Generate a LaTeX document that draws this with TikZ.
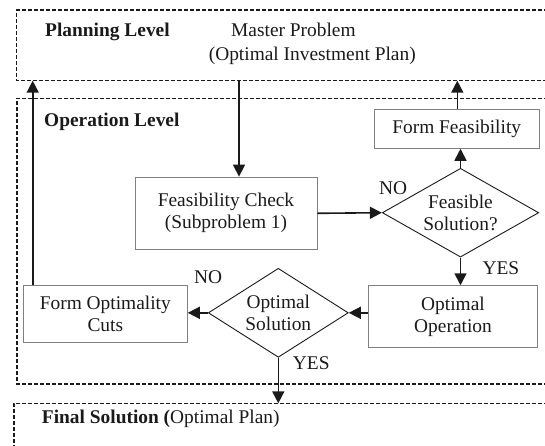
\documentclass[tikz,border=0pt]{standalone}
\usepackage{fontspec}
\setmainfont{Liberation Serif}
\usetikzlibrary{shapes.geometric,arrows.meta}
\definecolor{ink}{HTML}{1A1A1A}
\definecolor{boxgray}{HTML}{808080}
\tikzset{
  txt/.style={font=\fontsize{19.4}{22}\selectfont, text=ink},
  lbl/.style={txt, anchor=base west, inner sep=0pt},
  procbox/.style={txt, draw=boxgray, line width=0.9pt, align=center, inner sep=0pt},
  decision/.style={txt, draw=ink, line width=0.9pt, diamond, align=center, inner sep=0pt},
  levelbox/.style={draw=ink, line width=1.1pt, dash pattern=on 4pt off 2pt},
  flow/.style={draw=ink, line width=1.6pt, -{Triangle[length=12pt,width=12pt]}},
}
\begin{document}
\begin{tikzpicture}[x=1pt,y=-1pt]
\useasboundingbox (0,0) rectangle (545,445);
\clip (0,0) rectangle (545,445);
% level frames
\draw[levelbox] (560,10) -- (16.7,10) -- (16.7,80.7) -- (560,80.7);
\draw[levelbox] (560,98.3) -- (17,98.3) -- (17,384) -- (560,384);
\draw[levelbox] (560,403.3) -- (14,403.3) -- (14,460);
% level texts
\node[lbl] (plan) at (45,36.5) {\bfseries Planning Level};
\node[lbl] (mp1) at (231,36.5) {Master Problem};
\node[lbl] (mp2) at (208.6,60) {(Optimal Investment Plan)};
\node[lbl] (oplev) at (44,126.5) {\bfseries Operation Level};
\node[lbl] (final) at (41.7,423.5) {\textbf{Final Solution (}Optimal Plan)};
% process nodes
\node[procbox, minimum width=164.7pt, minimum height=39pt] (FF) at (456.7,128.8) {Form Feasibility};
\node[procbox, minimum width=182pt, minimum height=72.5pt] (FC) at (226,213.3) {Feasibility Check\\(Subproblem 1)};
\node[decision, minimum width=156.4pt, minimum height=88.8pt, aspect=1.76] (FS) at (460.5,212.7) {Feasible\\Solution?};
\node[procbox, minimum width=169.4pt, minimum height=61.6pt] (OO) at (453,316.5) {Optimal\\Operation};
\node[decision, minimum width=140pt, minimum height=89pt, aspect=1.57] (OS) at (278.3,312.8) {Optimal\\Solution};
\node[procbox, minimum width=164pt, minimum height=57.7pt] (FOC) at (105.3,313.9) {Form Optimality\\Cuts};
% labels
\node[lbl] (no1) at (379,194) {NO};
\node[lbl] (yes1) at (482.3,274.3) {YES};
\node[lbl] (no2) at (194,283.3) {NO};
\node[lbl] (yes2) at (292.7,369.3) {YES};
% free ends on the frames
\coordinate (pl) at (32.7,80.7);
\coordinate (pm) at (239,80.7);
\coordinate (pr) at (457.3,80.7);
\coordinate (fin) at (277.3,403.3);
% connectors
\draw[flow] (pm) -- (pm |- FC.north);
\draw[flow] (FC.east) -- (FS.west);
\draw[flow] (FS.north) -- (FS.north |- FF.south);
\draw[flow] (FF.north -| pr) -- (pr);
\draw[flow] (FS.south) -- (FS.south |- OO.north);
\draw[flow] (OS.east -| OO.west) -- (OS.east);
\draw[flow] (OS.west) -- (OS.west -| FOC.east);
\draw[flow] (FOC.north -| pl) -- (pl);
\draw[flow] (OS.south) -- (OS.south |- fin);
\end{tikzpicture}
\end{document}
